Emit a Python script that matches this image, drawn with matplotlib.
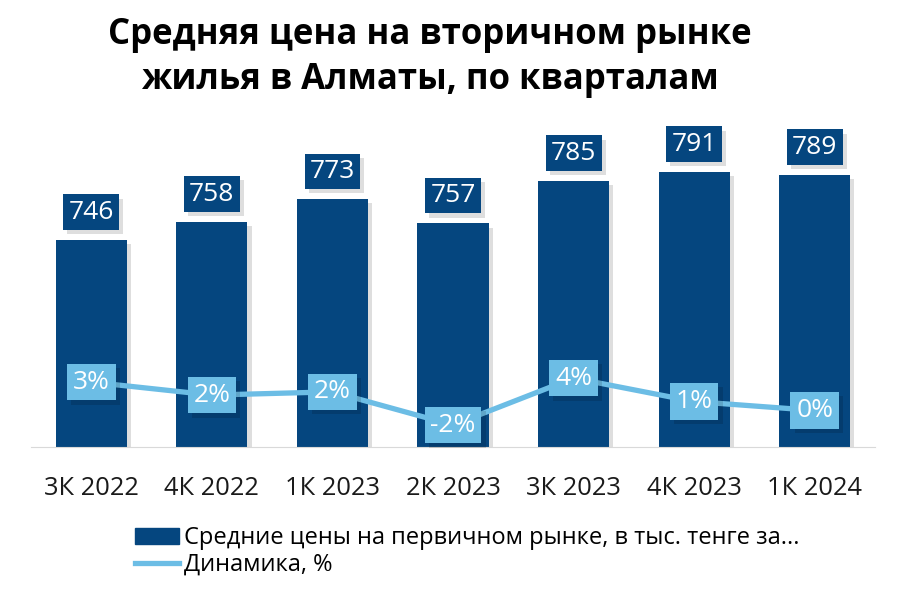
import matplotlib.pyplot as plt
import matplotlib.patheffects as pe
from matplotlib.patches import Patch
from matplotlib.lines import Line2D
import numpy as np

plt.rcParams['font.family'] = ['Open Sans', 'DejaVu Sans']

quarters = ["3К 2022", "4К 2022", "1К 2023", "2К 2023", "3К 2023", "4К 2023", "1К 2024"]
prices = [746, 758, 773, 757, 785, 791, 789]
dynamics = [3.2, 1.6, 2.0, -2.1, 3.7, 0.8, -0.3]
dyn_labels = ["3%", "2%", "2%", "-2%", "4%", "1%", "0%"]

bar_color = "#05467F"
line_color = "#6CBDE5"

fig = plt.figure(figsize=(9, 6.04), dpi=100)
ax = fig.add_axes([31 / 900, 157 / 604, 844 / 900, 327 / 604])
x = np.arange(len(quarters))

shadow = [pe.SimplePatchShadow(offset=(3, -3), shadow_rgbFace="#000000", alpha=0.13), pe.Normal()]
bars = ax.bar(x, prices, width=0.59, color=bar_color, zorder=2)
for b in bars:
    b.set_path_effects(shadow)
ax.set_ylim(609, 825.4)
ax.set_xlim(-0.5, len(quarters) - 0.5)

for xi, v in zip(x, prices):
    t = ax.annotate(str(v), (xi, v), xytext=(0, 20), textcoords="offset points",
                    ha="center", va="center", fontsize=19, color="white", zorder=5,
                    bbox=dict(boxstyle="square,pad=0.2", fc=bar_color, ec="none"))
    t.get_bbox_patch().set_path_effects(shadow)

ax2 = ax.twinx()
ax2.set_ylim(-4.81, 35.56)
ax2.plot(x, dynamics, color=line_color, lw=3.8, zorder=3, solid_capstyle="round")
for xi, v, lab in zip(x, dynamics, dyn_labels):
    t = ax2.annotate(lab, (xi, v), ha="center", va="center", fontsize=19, color="white", zorder=6,
                     bbox=dict(boxstyle="square,pad=0.22", fc=line_color, ec="none"))
    t.get_bbox_patch().set_path_effects(shadow)

for a in (ax, ax2):
    for s in a.spines.values():
        s.set_visible(False)
    a.set_yticks([])
ax.spines["bottom"].set_visible(True)
ax.spines["bottom"].set_color("#D9D9D9")
ax.set_xticks(x)
ax.set_xticklabels(quarters, fontsize=18.4, color="#1a1a1a")
ax.tick_params(axis="x", length=0, pad=21)

fig.text(0.478, 0.972, "Средняя цена на вторичном рынке\nжилья в Алматы, по кварталам",
         ha="center", va="top", fontsize=25, fontweight="bold", linespacing=1.35)

handles = [Patch(color=bar_color), Line2D([0], [0], color=line_color, lw=3.8)]
labels = ["Средние цены на первичном рынке, в тыс. тенге за...", "Динамика, %"]
fig.legend(handles, labels, loc="upper left", bbox_to_anchor=(126 / 900, 1 - 517 / 604),
           frameon=False, fontsize=17, handlelength=1.86, handletextpad=0.2,
           labelspacing=0.1, borderaxespad=0)

fig.savefig("out.png", dpi=100)
